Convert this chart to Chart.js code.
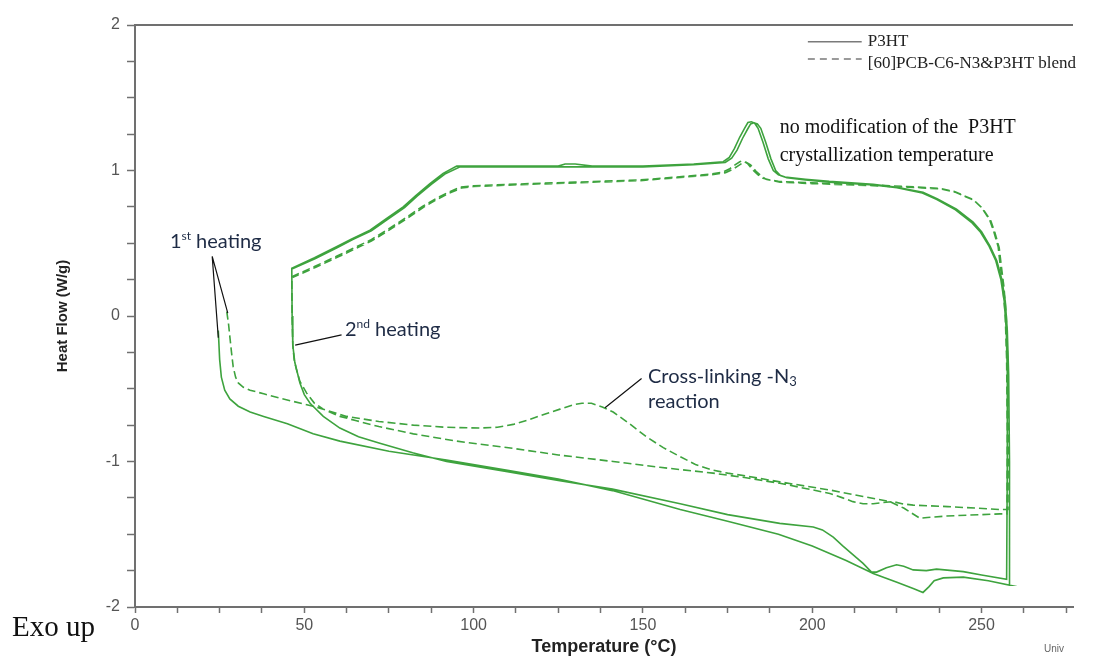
<!DOCTYPE html>
<html>
<head>
<meta charset="utf-8">
<title>DSC P3HT / blend</title>
<script src="https://cdn.jsdelivr.net/npm/chart.js@4.4.1/dist/chart.umd.min.js"></script>
<style>
  html, body { margin: 0; padding: 0; background: #fff; }
  #wrap { position: relative; width: 1102px; height: 659px; }
</style>
</head>
<body>
<div id="wrap"><canvas id="dscChart"></canvas></div>
<script>
// temperature (°C), heat flow (W/g), in run order

// P3HT (solid)
const p3htHeating1 = [[24.6,-0.10],[25.0,-0.30],[25.5,-0.42],[26.5,-0.51],[28.0,-0.57],[30.5,-0.62],[34,-0.66],[38,-0.69],[45,-0.74],[52.6,-0.81],[60.5,-0.86],[75,-0.93],[92,-0.99],[110,-1.06],[125,-1.12],[141,-1.20],[161,-1.33],[175,-1.41],[190,-1.50],[200,-1.58],[210,-1.68],[218,-1.77],[225,-1.83],[230,-1.875],[232.7,-1.90],[234.5,-1.86],[236,-1.82],[238.7,-1.80],[244.6,-1.795],[252,-1.82],[258.3,-1.85]];
const p3htCooling1 = [[258.3,-1.85],[258.2,-1.0],[258.0,-0.4],[257.6,-0.1],[257.0,0.1],[256,0.25],[254.5,0.38],[252.5,0.48],[250,0.58],[247.5,0.645],[242.6,0.735],[237,0.805],[232.7,0.85],[225,0.885],[218,0.905],[205,0.925],[198,0.94],[192,0.955],[190,0.97],[188.5,1.0],[187,1.08],[185.5,1.19],[184,1.29],[183,1.325],[182,1.335],[181,1.33],[180,1.29],[178.6,1.23],[177,1.15],[175.5,1.09],[173.7,1.06],[165,1.045],[150,1.03],[135,1.03],[130,1.045],[127,1.045],[125,1.03],[110,1.03],[95,1.03],[91,0.98],[87.1,0.91],[83,0.83],[79.2,0.75],[74,0.665],[69.4,0.59],[64,0.53],[59.5,0.476],[53,0.40],[46.3,0.328]];
const p3htHeating2 = [[46.3,0.328],[46.4,0.0],[46.6,-0.2],[47.2,-0.32],[48.7,-0.46],[50,-0.54],[51.7,-0.60],[55.6,-0.69],[60.5,-0.77],[66,-0.83],[72.3,-0.875],[82,-0.94],[92,-1.0],[110,-1.07],[125,-1.13],[141,-1.19],[161,-1.29],[175,-1.365],[190.4,-1.425],[200.3,-1.45],[203,-1.47],[206.2,-1.52],[209,-1.58],[212,-1.64],[215,-1.70],[217.5,-1.76],[219,-1.76],[221.9,-1.73],[224.9,-1.71],[227,-1.72],[229.8,-1.745],[233.7,-1.75],[236.7,-1.74],[244.6,-1.757],[250,-1.78],[257.4,-1.81]];
const p3htCooling2 = [[257.4,-1.81],[257.6,-1.0],[257.6,-0.4],[257.3,-0.1],[256.7,0.1],[255.7,0.25],[254.2,0.38],[252.2,0.48],[249.7,0.575],[247.2,0.64],[242.3,0.73],[236.8,0.80],[232.5,0.845],[225,0.882],[218,0.90],[205,0.92],[198,0.935],[192.5,0.95],[190.6,0.965],[189.2,1.0],[187.8,1.08],[186.3,1.19],[184.8,1.29],[183.8,1.32],[182.8,1.328],[181.8,1.32],[180.8,1.28],[179.4,1.22],[177.8,1.14],[176.2,1.085],[174.3,1.055],[165,1.04],[150,1.025],[130,1.025],[110,1.025],[96,1.025],[91.5,0.975],[87.5,0.905],[83.4,0.825],[79.6,0.745],[74.4,0.66],[69.8,0.585],[64.3,0.525],[59.8,0.47],[53.3,0.395],[46.5,0.325]];

// [60]PCB-C6-N3 & P3HT blend (dashed)
const blendHeating1 = [[27.1,0.03],[27.6,-0.05],[28,-0.14],[28.5,-0.25],[29,-0.35],[29.7,-0.42],[30.5,-0.46],[32,-0.49],[34,-0.51],[38,-0.535],[42.8,-0.565],[52.6,-0.62],[62.5,-0.69],[72,-0.725],[82.2,-0.75],[92,-0.765],[101.9,-0.77],[107,-0.765],[111.7,-0.745],[116,-0.715],[121.6,-0.67],[125.5,-0.64],[129.4,-0.61],[132,-0.60],[134.8,-0.60],[138,-0.625],[141.2,-0.66],[146,-0.74],[151,-0.83],[156,-0.905],[161,-0.967],[165.5,-1.02],[170.7,-1.06],[175,-1.08],[180.6,-1.10],[190.4,-1.14],[205.2,-1.196],[215,-1.24],[222.9,-1.276],[227,-1.32],[231.8,-1.39],[234,-1.385],[239.6,-1.375],[250,-1.365],[255.4,-1.36],[257.5,-1.36]];
const blendCooling1 = [[257.5,-1.36],[257.6,-0.8],[257.4,-0.3],[257,0.0],[256.3,0.2],[255.5,0.35],[254.9,0.476],[253.6,0.58],[252.4,0.66],[250,0.745],[247.5,0.80],[242,0.855],[237.7,0.877],[228,0.89],[218,0.90],[200,0.915],[190,0.925],[187.5,0.935],[185.5,0.946],[184,0.97],[182.6,1.0],[181,1.045],[179.6,1.067],[178.6,1.06],[177.3,1.04],[175.5,1.01],[173.7,0.99],[170,0.975],[160,0.955],[149,0.935],[130,0.92],[116.6,0.91],[100,0.895],[96,0.885],[92.5,0.85],[89.1,0.81],[85,0.755],[81.2,0.694],[75,0.60],[69.4,0.52],[64,0.46],[59.5,0.41],[53,0.34],[46.3,0.27]];
const blendHeating2 = [[46.3,0.27],[46.4,0.0],[46.6,-0.2],[47,-0.30],[47.7,-0.37],[48.7,-0.45],[50.7,-0.53],[53,-0.60],[55.6,-0.64],[60.5,-0.69],[65.4,-0.72],[72,-0.76],[82.2,-0.81],[95,-0.86],[111.7,-0.91],[125,-0.955],[141.2,-1.0],[155,-1.04],[170.7,-1.08],[180,-1.11],[190.4,-1.15],[198,-1.185],[205.2,-1.22],[209,-1.25],[212,-1.276],[215,-1.29],[218,-1.29],[221,-1.282],[223.9,-1.276],[226.5,-1.29],[229.8,-1.30],[240,-1.31],[248,-1.32],[255.4,-1.33],[257.8,-1.33]];
const blendCooling2 = [[257.8,-1.33],[257.9,-0.8],[257.7,-0.3],[257.3,0.0],[256.6,0.2],[255.8,0.35],[255.2,0.47],[253.9,0.575],[252.7,0.655],[250.3,0.74],[247.8,0.795],[242.3,0.85],[238,0.873],[228,0.886],[218,0.896],[200,0.91],[190.5,0.92],[188.2,0.93],[186.3,0.94],[184.8,0.965],[183.4,0.995],[181.8,1.038],[180.4,1.058],[179.4,1.052],[178.1,1.032],[176.3,1.005],[174.4,0.985],[170,0.97],[160,0.95],[149,0.93],[130,0.915],[116.6,0.905],[100,0.89],[96.4,0.88],[92.9,0.845],[89.5,0.805],[85.4,0.75],[81.6,0.69],[75.4,0.595],[69.8,0.515],[64.4,0.455],[59.9,0.405],[53.4,0.335],[46.5,0.265]];

const seriesNames = ['P3HT', '[60]PCB-C6-N3&P3HT blend'];
const tempTicks = [0, 50, 100, 150, 200, 250];
const heatFlowTicks = [-2, -1, 0, 1, 2];

const green = 'rgb(62,163,62)';
const axisGray = '#707070';
const arial = '"Liberation Sans", Arial, sans-serif';
const times = '"Liberation Serif", "Times New Roman", serif';
const calibri = 'Lato, "Open Sans", sans-serif';
const noteBlue = '#1e2b45';

function toPoints(...segments) {
  return segments.flat().map(([t, hf]) => ({ x: t, y: hf }));
}

// writes a run of text pieces, some raised or lowered (superscript / subscript)
function drawRuns(ctx, x, y, runs, family, color) {
  ctx.fillStyle = color;
  ctx.textBaseline = 'alphabetic';
  ctx.textAlign = 'left';
  let cx = x;
  runs.forEach(r => {
    ctx.font = r.size + 'px ' + family;
    ctx.fillText(r.t, cx, y + (r.dy || 0));
    cx += ctx.measureText(r.t).width;
  });
}

const decorations = {
  id: 'decorations',
  afterDatasetsDraw(chart) {
    const { ctx, chartArea: area, scales: { x, y } } = chart;
    const X = v => x.getPixelForValue(v);
    const Y = v => y.getPixelForValue(v);
    ctx.save();

    // frame top line
    ctx.strokeStyle = axisGray;
    ctx.lineWidth = 2;
    ctx.beginPath();
    ctx.moveTo(area.left, area.top);
    ctx.lineTo(area.right, area.top);
    ctx.stroke();

    // legend
    ctx.strokeStyle = '#7a7a7a';
    ctx.lineWidth = 1.5;
    ctx.beginPath();
    ctx.moveTo(X(198.7), Y(1.885));
    ctx.lineTo(X(214.6), Y(1.885));
    ctx.stroke();
    ctx.setLineDash([7, 5]);
    ctx.beginPath();
    ctx.moveTo(X(198.7), Y(1.766));
    ctx.lineTo(X(214.6), Y(1.766));
    ctx.stroke();
    ctx.setLineDash([]);
    drawRuns(ctx, X(216.4), Y(1.855), [{ t: seriesNames[0], size: 17 }], times, '#222');
    drawRuns(ctx, X(216.4), Y(1.705), [{ t: seriesNames[1], size: 17 }], times, '#222');

    // pointer lines
    ctx.strokeStyle = '#111';
    ctx.lineWidth = 1.2;
    ctx.beginPath();
    ctx.moveTo(X(24.6), Y(-0.15)); ctx.lineTo(X(22.8), Y(0.41)); ctx.lineTo(X(27.4), Y(0.02));
    ctx.moveTo(X(47.3), Y(-0.2)); ctx.lineTo(X(61), Y(-0.13));
    ctx.moveTo(X(138.8), Y(-0.63)); ctx.lineTo(X(149.6), Y(-0.43));
    ctx.stroke();

    // notes
    drawRuns(ctx, X(10.3), Y(0.467), [{ t: '1', size: 20 }, { t: 'st', size: 12, dy: -8 }, { t: ' heating', size: 20 }], calibri, noteBlue);
    drawRuns(ctx, X(62), Y(-0.137), [{ t: '2', size: 20 }, { t: 'nd', size: 12, dy: -8 }, { t: ' heating', size: 20 }], calibri, noteBlue);
    drawRuns(ctx, X(151.5), Y(-0.46), [{ t: 'Cross-linking -N', size: 20 }, { t: '3', size: 13, dy: 3 }], calibri, noteBlue);
    drawRuns(ctx, X(151.5), Y(-0.632), [{ t: 'reaction', size: 20 }], calibri, noteBlue);
    drawRuns(ctx, X(190.4), Y(1.258), [{ t: 'no modification of the  P3HT', size: 20 }], times, '#111');
    drawRuns(ctx, X(190.4), Y(1.065), [{ t: 'crystallization temperature', size: 20 }], times, '#111');

    // corner texts
    drawRuns(ctx, 12, 636, [{ t: 'Exo up', size: 29 }], times, '#111');
    drawRuns(ctx, 1044, 652, [{ t: 'Univ', size: 10 }], arial, '#666');
    ctx.restore();
  }
};

new Chart(document.getElementById('dscChart'), {
  type: 'scatter',
  data: {
    datasets: [
      {
        label: seriesNames[0],
        data: toPoints(p3htHeating1, p3htCooling1, p3htHeating2, p3htCooling2),
        showLine: true,
        borderColor: green,
        borderWidth: 1.6,
        pointRadius: 0,
        fill: false
      },
      {
        label: seriesNames[1],
        data: toPoints(blendHeating1, blendCooling1, blendHeating2, blendCooling2),
        showLine: true,
        borderColor: green,
        borderWidth: 1.6,
        borderDash: [8, 4],
        pointRadius: 0,
        fill: false
      }
    ]
  },
  options: {
    responsive: true,
    maintainAspectRatio: false,
    animation: false,
    layout: { padding: { left: 50, top: 25, right: 29, bottom: 0 } },
    plugins: { legend: { display: false }, tooltip: { enabled: false } },
    scales: {
      x: {
        type: 'linear',
        min: 0,
        max: 277,
        border: { color: axisGray, width: 2 },
        grid: { drawOnChartArea: false, tickLength: 6, tickColor: axisGray, tickWidth: 1.5 },
        ticks: {
          stepSize: 12.5,
          includeBounds: false,
          autoSkip: false,
          maxRotation: 0,
          padding: 3,
          color: '#555',
          font: { family: arial, size: 16 },
          callback: v => tempTicks.includes(v) ? String(v) : ''
        },
        title: {
          display: true,
          text: 'Temperature (°C)',
          color: '#222',
          font: { family: arial, size: 18, weight: 'bold' },
          padding: { top: 0, bottom: 1 }
        },
        afterFit: s => { s.height = 52; }
      },
      y: {
        type: 'linear',
        min: -2,
        max: 2,
        border: { color: axisGray, width: 2 },
        grid: { drawOnChartArea: false, tickLength: 8, tickColor: axisGray, tickWidth: 1.5 },
        ticks: {
          stepSize: 0.25,
          includeBounds: false,
          autoSkip: false,
          padding: 7,
          color: '#555',
          font: { family: arial, size: 16 },
          callback: v => heatFlowTicks.includes(v) ? String(v) : ''
        },
        title: {
          display: true,
          text: 'Heat Flow (W/g)',
          color: '#222',
          font: { family: arial, size: 15, weight: 'bold' },
          padding: { top: 4, bottom: 4 }
        },
        afterFit: s => { s.width = 85; }
      }
    }
  },
  plugins: [decorations]
});
</script>
</body>
</html>
